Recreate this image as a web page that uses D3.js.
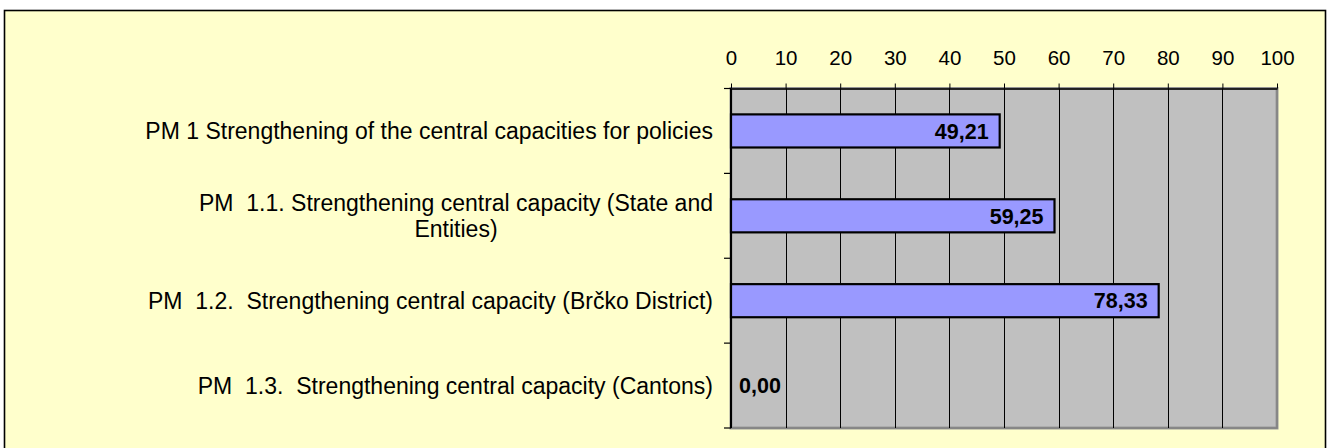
<!DOCTYPE html>
<html>
<head>
<meta charset="utf-8">
<script src="https://cdn.jsdelivr.net/npm/d3@7"></script>
<style>
  html, body { margin: 0; padding: 0; background: #ffffff; }
  svg { display: block; }
  text { font-family: "Liberation Sans", Arial, sans-serif; fill: #000; }
</style>
</head>
<body>
<svg id="chart" width="1328" height="448"></svg>
<script>
// ---- data ----
const categories = [
  "PM 1 Strengthening of the central capacities for policies",
  "PM  1.1. Strengthening central capacity (State and Entities)",
  "PM  1.2.  Strengthening central capacity (Brčko District)",
  "PM  1.3.  Strengthening central capacity (Cantons)"
];
const values = [49.21, 59.25, 78.33, 0.00];
const valueLabels = ["49,21", "59,25", "78,33", "0,00"];
const xTicks = [0, 10, 20, 30, 40, 50, 60, 70, 80, 90, 100];
const xTickLabels = ["0", "10", "20", "30", "40", "50", "60", "70", "80", "90", "100"];

// ---- layout ----
const W = 1328, H = 448;
const plot = { left: 731, right: 1277, top: 88.5, bottom: 428 };
const svg = d3.select("#chart");

// outer chart area
svg.append("rect")
  .attr("x", 4.5).attr("y", 10.5)
  .attr("width", 1321).attr("height", 460)
  .attr("fill", "#ffffcc")
  .attr("stroke", "#000").attr("stroke-width", 1.6);

const x = d3.scaleLinear().domain([0, 100]).range([plot.left, plot.right]);
const y = d3.scaleBand().domain(categories)
  .range([plot.top, plot.bottom])
  .paddingInner(0.61).paddingOuter(0.305);

// plot area background + shadow-ish border
svg.append("rect")
  .attr("x", plot.left).attr("y", plot.top)
  .attr("width", plot.right - plot.left).attr("height", plot.bottom - plot.top)
  .attr("fill", "#c0c0c0")
  .attr("stroke", "#9a9a9a").attr("stroke-width", 3);
svg.append("rect")
  .attr("x", plot.left).attr("y", plot.top)
  .attr("width", plot.right - plot.left).attr("height", plot.bottom - plot.top)
  .attr("fill", "none")
  .attr("stroke", "#808080").attr("stroke-width", 1.5);

// vertical gridlines
svg.append("g").selectAll("line")
  .data(xTicks.filter(t => t > 0 && t < 100))
  .join("line")
  .attr("x1", d => Math.round(x(d)) + 0.5).attr("x2", d => Math.round(x(d)) + 0.5)
  .attr("y1", plot.top).attr("y2", plot.bottom)
  .attr("stroke", "#000").attr("stroke-width", 1);

// top axis
const xAxis = d3.axisTop(x)
  .tickValues(xTicks)
  .tickFormat((d, i) => xTickLabels[i])
  .tickSize(5).tickPadding(19).tickSizeOuter(0);
const gx = svg.append("g").attr("transform", `translate(0,${plot.top})`).call(xAxis);
gx.select(".domain").attr("stroke", "#000").attr("stroke-width", 1.5);
gx.selectAll(".tick line").attr("stroke", "#000");
gx.selectAll(".tick text")
  .attr("font-size", 20.5)
  .attr("font-family", "Liberation Sans, Arial, sans-serif")
  .attr("fill", "#000");

// left axis line + category boundary ticks
const step = y.step();
const start = y.range()[0];
const bounds = d3.range(categories.length + 1).map(i => start + i * step);
svg.append("line")
  .attr("x1", plot.left).attr("x2", plot.left)
  .attr("y1", plot.top).attr("y2", plot.bottom)
  .attr("stroke", "#000").attr("stroke-width", 2);
svg.append("g").selectAll("line")
  .data(bounds).join("line")
  .attr("x1", plot.left - 7).attr("x2", plot.left)
  .attr("y1", d => d).attr("y2", d => d)
  .attr("stroke", "#000").attr("stroke-width", 1.2);

// bars
svg.append("g").selectAll("rect")
  .data(values.map((v, i) => ({ v, c: categories[i] })))
  .join("rect")
  .attr("x", x(0))
  .attr("y", d => y(d.c))
  .attr("width", d => x(d.v) - x(0))
  .attr("height", y.bandwidth())
  .attr("fill", "#9999ff")
  .attr("stroke", "#000").attr("stroke-width", 2.2)
  .attr("display", d => d.v > 0 ? null : "none");

// value labels
const vl = svg.append("g").selectAll("text")
  .data(values.map((v, i) => ({ v, c: categories[i], t: valueLabels[i] })))
  .join("text")
  .attr("font-size", 21.5)
  .attr("font-weight", "bold")
  .attr("y", d => y(d.c) + y.bandwidth() / 2)
  .attr("dy", "0.36em")
  .text(d => d.t);
vl.each(function(d) {
  const w = this.getComputedTextLength();
  const endX = x(d.v) - 11;
  if (endX - w < x(0) + 8) {
    d3.select(this).attr("text-anchor", "start").attr("x", x(0) + 8);
  } else {
    d3.select(this).attr("text-anchor", "end").attr("x", endX);
  }
});

// category labels (wrapped, centred lines, right-aligned block)
const labelRight = 713;
const maxW = 585;
const catFont = 23;
const lg = svg.append("g");
categories.forEach(c => {
  const words = c.split(" ");
  const tmp = lg.append("text").attr("font-size", catFont).style("white-space", "pre");
  const lines = [];
  let cur = "";
  words.forEach((w, wi) => {
    const trial = wi === 0 ? w : cur + " " + w;
    tmp.text(trial);
    if (tmp.node().getComputedTextLength() > maxW && cur !== "") {
      lines.push(cur);
      cur = w;
    } else {
      cur = trial;
    }
  });
  lines.push(cur);
  const widths = lines.map(l => { tmp.text(l); return tmp.node().getComputedTextLength(); });
  tmp.remove();
  const blockW = d3.max(widths);
  const cx = labelRight - blockW / 2;
  const lh = catFont * 1.1;
  const cy = y(c) + y.bandwidth() / 2;
  const t = lg.append("text")
    .attr("font-size", catFont)
    .attr("text-anchor", "middle")
    .style("white-space", "pre");
  lines.forEach((l, i) => {
    t.append("tspan")
      .attr("x", cx)
      .attr("y", cy + (i - (lines.length - 1) / 2) * lh)
      .attr("dy", "0.36em")
      .text(l);
  });
});
</script>
</body>
</html>
